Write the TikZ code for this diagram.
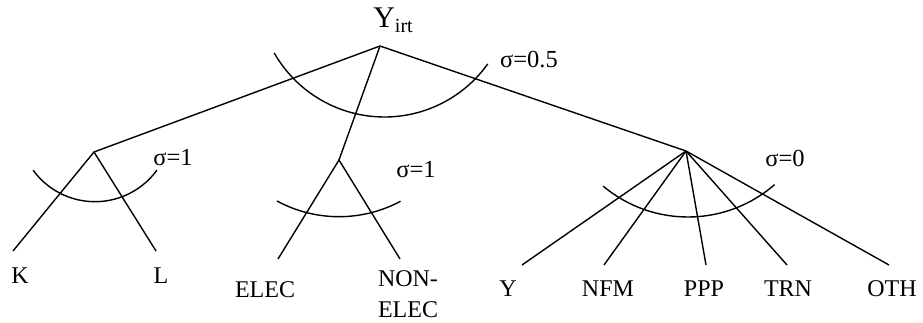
\documentclass[tikz,border=0pt]{standalone}
\usepackage{fontspec}
\setmainfont{Liberation Serif}
\begin{document}
\begin{tikzpicture}[x=1pt,y=1pt,
  edge/.style={line width=1.4pt},
  elas/.style={line width=1.4pt},
  lab/.style={inner sep=0pt,font=\fontsize{24}{31}\selectfont},
  sig/.style={inner sep=0pt,font=\fontsize{24.5}{28}\selectfont}]
\useasboundingbox (0,0) rectangle (923,322);
% branch points
\coordinate (R) at (380,276);
\coordinate (A) at (94,170);
\coordinate (B) at (339,162);
\coordinate (C) at (686,171);
% free ends
\coordinate (eK) at (13,71);
\coordinate (eL) at (156,71);
\coordinate (eE) at (278,63);
\coordinate (eN) at (400,63);
\coordinate (eY) at (522,57);
\coordinate (eF) at (604,57);
\coordinate (eP) at (706,57);
\coordinate (eT) at (787,57);
\coordinate (eO) at (889,57);
% arc centres
\coordinate (c0) at (384.5,332);
\coordinate (c1) at (95,196.8);
\coordinate (c2) at (339,235.6);
\coordinate (c3) at (688,237);
% labels
\node[inner sep=0pt] (top) at (393,302) {\fontsize{30}{30}\selectfont Y\raisebox{-5pt}{\fontsize{20}{20}\selectfont irt}};
\node[sig] (s0) at (529,262) {σ=0.5};
\node[sig] (s1) at (173,164) {σ=1};
\node[sig] (s2) at (416,152) {σ=1};
\node[sig] (s3) at (785,163.5) {σ=0};
\node[lab] (K) at (20,46.5) {K};
\node[lab] (L) at (161,46.5) {L};
\node[lab] (ELEC) at (265,32.5) {ELEC};
\node[lab,align=center] (NONELEC) at (408,28) {NON-\\ELEC};
\node[lab] (Y) at (508,33.5) {Y};
\node[lab] (NFM) at (608,33.5) {NFM};
\node[lab] (PPP) at (704,33.5) {PPP};
\node[lab] (TRN) at (788,33.5) {TRN};
\node[lab] (OTH) at (892,33.5) {OTH};
% edges
\draw[edge] (A) -- (R) -- (C);
\draw[edge] (R) -- (B);
\draw[edge] (eK) -- (A) -- (eL);
\draw[edge] (eE) -- (B) -- (eN);
\draw[edge] (C) -- (eY);
\draw[edge] (C) -- (eF);
\draw[edge] (C) -- (eP);
\draw[edge] (C) -- (eT);
\draw[edge] (C) -- (eO);
% elasticity arcs
\draw[elas] ([shift={(209.7:127pt)}]c0) arc[start angle=209.7,end angle=324.4,radius=127pt];
\draw[elas] ([shift={(216:76.5pt)}]c1) arc[start angle=216,end angle=324,radius=76.5pt];
\draw[elas] ([shift={(241.6:130.3pt)}]c2) arc[start angle=241.6,end angle=298.2,radius=130.3pt];
\draw[elas] ([shift={(230:132pt)}]c3) arc[start angle=230,end angle=311,radius=132pt];
\end{tikzpicture}
\end{document}
